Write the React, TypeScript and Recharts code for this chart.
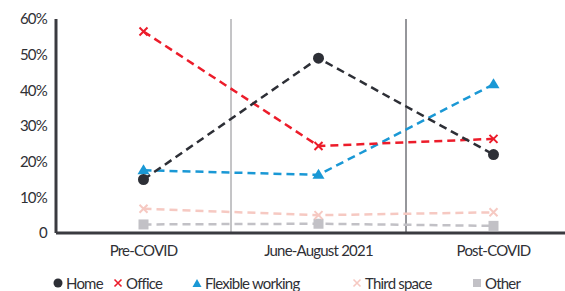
import React from "react";
import { LineChart, Line, XAxis, YAxis, ReferenceLine } from "recharts";

const periods = ["Pre-COVID", "June-August 2021", "Post-COVID"];
const periodPos = [0.5, 1.5, 2.5];
const home = [0.15, 0.49, 0.22];
const office = [0.565, 0.244, 0.264];
const flexible = [0.176, 0.163, 0.417];
const thirdSpace = [0.068, 0.05, 0.058];
const other = [0.024, 0.026, 0.02];
const yTicks = [0, 0.1, 0.2, 0.3, 0.4, 0.5, 0.6];
const dividers = [1, 2];

const FONT = "Lato, 'Open Sans', sans-serif";

const colors = {
  home: "#2d2f36",
  office: "#ec1c2a",
  flexible: "#1a98d5",
  thirdSpace: "#f6c9c2",
  other: "#c2c1c6",
};

const data = periodPos.map((x, i) => ({
  x,
  home: home[i],
  office: office[i],
  flexible: flexible[i],
  thirdSpace: thirdSpace[i],
  other: other[i],
}));

type DotProps = { cx?: number; cy?: number; index?: number };

const circleDot = (color: string) => (p: DotProps) =>
  <circle key={p.index} cx={p.cx} cy={p.cy} r={5.5} fill={color} />;

const crossDot = (color: string) => (p: DotProps) => {
  const s = 4;
  const { cx = 0, cy = 0 } = p;
  return (
    <path
      key={p.index}
      d={`M${cx - s},${cy - s}L${cx + s},${cy + s}M${cx - s},${cy + s}L${cx + s},${cy - s}`}
      stroke={color}
      strokeWidth={2}
      fill="none"
    />
  );
};

const triangleDot = (color: string) => (p: DotProps) => {
  const { cx = 0, cy = 0 } = p;
  return (
    <path
      key={p.index}
      d={`M${cx},${cy - 6}L${cx + 6},${cy + 4}L${cx - 6},${cy + 4}Z`}
      fill={color}
    />
  );
};

const squareDot = (color: string) => (p: DotProps) => {
  const { cx = 0, cy = 0 } = p;
  return <rect key={p.index} x={cx - 5} y={cy - 5} width={10} height={10} fill={color} />;
};

const legendItems = [
  { label: "Home", color: colors.home, shape: "circle", left: 53 },
  { label: "Office", color: colors.office, shape: "cross", left: 113 },
  { label: "Flexible working", color: colors.flexible, shape: "triangle", left: 192 },
  { label: "Third space", color: colors.thirdSpace, shape: "cross", left: 352 },
  { label: "Other", color: colors.other, shape: "square", left: 472 },
];

function LegendIcon({ shape, color }: { shape: string; color: string }) {
  return (
    <svg width={10} height={10} style={{ marginRight: 3 }}>
      {shape === "circle" && <circle cx={5} cy={5} r={4.5} fill={color} />}
      {shape === "cross" && (
        <path d="M1.5,1.5L8.5,8.5M1.5,8.5L8.5,1.5" stroke={color} strokeWidth={1.6} />
      )}
      {shape === "triangle" && <path d="M5,1L9.5,9L0.5,9Z" fill={color} />}
      {shape === "square" && <rect x={1} y={1} width={8} height={8} fill={color} />}
    </svg>
  );
}

function ChartLegend() {
  return (
    <div style={{ position: "absolute", left: 0, top: 274, width: 565, height: 18, fontFamily: FONT, fontSize: 15, color: "#2f3035", letterSpacing: -0.8 }}>
      {legendItems.map((it) => (
        <div
          key={it.label}
          style={{ position: "absolute", left: it.left, top: 0, display: "flex", alignItems: "center", whiteSpace: "nowrap", lineHeight: "18px" }}
        >
          <LegendIcon shape={it.shape} color={it.color} />
          <span>{it.label}</span>
        </div>
      ))}
    </div>
  );
}

export default function App() {
  return (
    <div
      style={{
        position: "fixed",
        left: 0,
        top: 0,
        width: 565,
        height: 291,
        overflow: "hidden",
        background: "#fff",
      }}
    >
      <LineChart width={600} height={291} data={data} margin={{ top: 19, right: 19, left: 0, bottom: 28 }}>
        <XAxis
          dataKey="x"
          type="number"
          domain={[0, 3]}
          ticks={periodPos}
          tickFormatter={(v: number) => periods[periodPos.indexOf(v)] ?? ""}
          axisLine={{ stroke: "#3a3b40", strokeWidth: 3 }}
          tickLine={false}
          tickSize={0}
          tickMargin={12}
          height={30}
          tick={{ fill: "#2f3035", fontSize: 15, fontFamily: FONT, letterSpacing: -0.8 }}
        />
        <YAxis
          domain={[0, 0.6]}
          ticks={yTicks}
          width={56}
          tickFormatter={(v: number) => (v === 0 ? "0" : `${Math.round(v * 100)}%`)}
          axisLine={{ stroke: "#3a3b40", strokeWidth: 3 }}
          tickLine={false}
          tickSize={0}
          tickMargin={9}
          tick={{ fill: "#2f3035", fontSize: 15, fontFamily: FONT, letterSpacing: -0.8 }}
        />
        {dividers.map((d, i) => (
          <ReferenceLine key={d} x={d} stroke={i === 0 ? "#8a8a8e" : "#2d2f36"} strokeWidth={1} />
        ))}
        <Line dataKey="other" stroke={colors.other} strokeWidth={2.5} strokeDasharray="8 5" dot={squareDot(colors.other)} isAnimationActive={false} />
        <Line dataKey="thirdSpace" stroke={colors.thirdSpace} strokeWidth={2.5} strokeDasharray="8 5" dot={crossDot(colors.thirdSpace)} isAnimationActive={false} />
        <Line dataKey="flexible" stroke={colors.flexible} strokeWidth={2.5} strokeDasharray="8 5" dot={triangleDot(colors.flexible)} isAnimationActive={false} />
        <Line dataKey="office" stroke={colors.office} strokeWidth={2.5} strokeDasharray="8 5" dot={crossDot(colors.office)} isAnimationActive={false} />
        <Line dataKey="home" stroke={colors.home} strokeWidth={2.5} strokeDasharray="8 5" dot={circleDot(colors.home)} isAnimationActive={false} />
      </LineChart>
      <ChartLegend />
    </div>
  );
}
